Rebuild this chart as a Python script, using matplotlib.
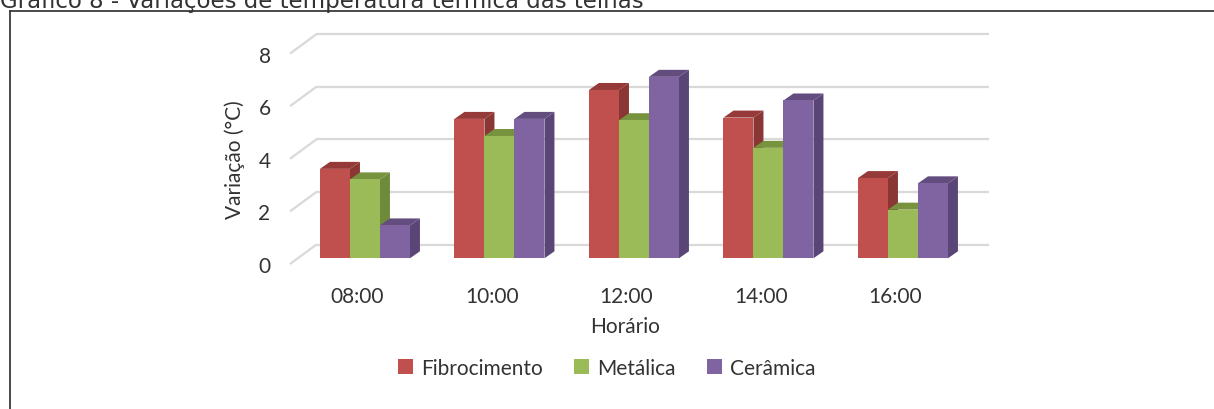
import matplotlib
matplotlib.use("Agg")
import matplotlib.pyplot as plt
from matplotlib.patches import Polygon, Patch
from matplotlib.lines import Line2D

# Data
horarios = ["08:00", "10:00", "12:00", "14:00", "16:00"]
series_names = ["Fibrocimento", "Metálica", "Cerâmica"]
fibrocimento = [3.4, 5.3, 6.4, 5.35, 3.05]
metalica = [3.0, 4.65, 5.25, 4.2, 1.85]
ceramica = [1.25, 5.3, 6.9, 6.0, 2.85]
yticks = [0, 2, 4, 6, 8]

front_colors = ["#C0504D", "#9BBB59", "#8064A2"]
side_colors = ["#8A3634", "#6F8A3B", "#5A4577"]
top_colors = ["#953A38", "#77933D", "#634C7E"]

W, H, DPI = 1214, 410, 100
fig = plt.figure(figsize=(W / DPI, H / DPI), dpi=DPI)
fig.patch.set_facecolor("white")

FONT = ["Lato", "DejaVu Sans"]
TXT = "#333333"
FS = 15

# Axes in the front plane of the floor
ax = fig.add_axes([290 / W, 145 / H, 672.5 / W, 210.4 / H])
ax.set_xlim(-0.5, len(horarios) - 0.5)
ax.set_ylim(0, 8)
for s in ax.spines.values():
    s.set_visible(False)
ax.patch.set_visible(False)

# pseudo-3D offsets in data units
bar_plane = (0.0573, 0.217)   # bar front faces behind floor edge
bar_depth = (0.0743, 0.266)   # depth of each bar
wall = (0.197, 0.741)         # back wall behind floor edge

x0, x1 = -0.5, len(horarios) - 0.5
for v in yticks:
    ax.add_line(Line2D([x0, x0 + wall[0]], [v, v + wall[1]], color="#D9D9D9",
                       lw=1.6, zorder=1, clip_on=False, solid_capstyle="butt"))
    ax.add_line(Line2D([x0 + wall[0], x1 + wall[0]], [v + wall[1], v + wall[1]],
                       color="#D9D9D9", lw=1.6, zorder=1, clip_on=False,
                       solid_capstyle="butt"))

series = [fibrocimento, metalica, ceramica]
bw = 0.223
k = 0
for i in range(len(horarios)):
    for j, vals in enumerate(series):
        v = vals[i]
        left = i + (j - 1.5) * bw + bar_plane[0]
        right = left + bw
        base = bar_plane[1]
        top = base + v
        dx, dy = bar_depth
        z = 2 + k * 0.01
        side = Polygon([(right, base), (right + dx, base + dy),
                        (right + dx, top + dy), (right, top)],
                       closed=True, facecolor=side_colors[j], edgecolor="none",
                       zorder=z, clip_on=False)
        topf = Polygon([(left, top), (right, top), (right + dx, top + dy),
                        (left + dx, top + dy)],
                       closed=True, facecolor=top_colors[j], edgecolor="none",
                       zorder=z, clip_on=False)
        ax.add_patch(side)
        ax.add_patch(topf)
        ax.bar(left, v, width=bw, bottom=base, align="edge",
               color=front_colors[j], edgecolor="none", zorder=z + 0.005,
               clip_on=False)
        k += 1

ax.set_xticks(range(len(horarios)))
ax.set_xticklabels(horarios)
ax.set_yticks(yticks)
ax.set_yticklabels([str(t) for t in yticks])
ax.tick_params(axis="both", length=0, labelsize=FS, labelcolor=TXT)
ax.tick_params(axis="y", pad=14)
ax.tick_params(axis="x", pad=16)
for lab in ax.get_xticklabels() + ax.get_yticklabels():
    lab.set_family(FONT)

ax.set_ylabel("Variação (°C)", fontsize=FS, color=TXT, family=FONT)
ax.yaxis.set_label_coords(-0.082, 0.5)
ax.yaxis.label.set_va("center")
ax.set_xlabel("Horário", fontsize=FS, color=TXT, family=FONT)
ax.xaxis.set_label_coords(0.498, -0.295)
ax.xaxis.label.set_va("center")

handles = [Patch(facecolor=c, edgecolor="none") for c in front_colors]
fig.legend(handles, series_names, loc="center", ncol=3,
           bbox_to_anchor=(607 / W, 1 - 369 / H), frameon=False,
           prop={"family": FONT, "size": FS}, labelcolor=TXT,
           handlelength=0.7, handleheight=0.7, handletextpad=0.4,
           columnspacing=1.5)

# Title, partly above the figure edge
fig.text(0, 1 - 8 / H, "Gráfico 8 - Variações de temperatura térmica das telhas",
         fontsize=16.5, color="#333333", ha="left", va="baseline",
         family=["DejaVu Sans"])

# Frame around the chart
fig.add_artist(Line2D([10 / W, 10 / W], [0, 1 - 12 / H], color="#3A3A3A", lw=1.3,
                      transform=fig.transFigure))
fig.add_artist(Line2D([10 / W, 1], [1 - 12 / H, 1 - 12 / H], color="#3A3A3A",
                      lw=1.3, transform=fig.transFigure))

fig.savefig("out.png", dpi=DPI)
